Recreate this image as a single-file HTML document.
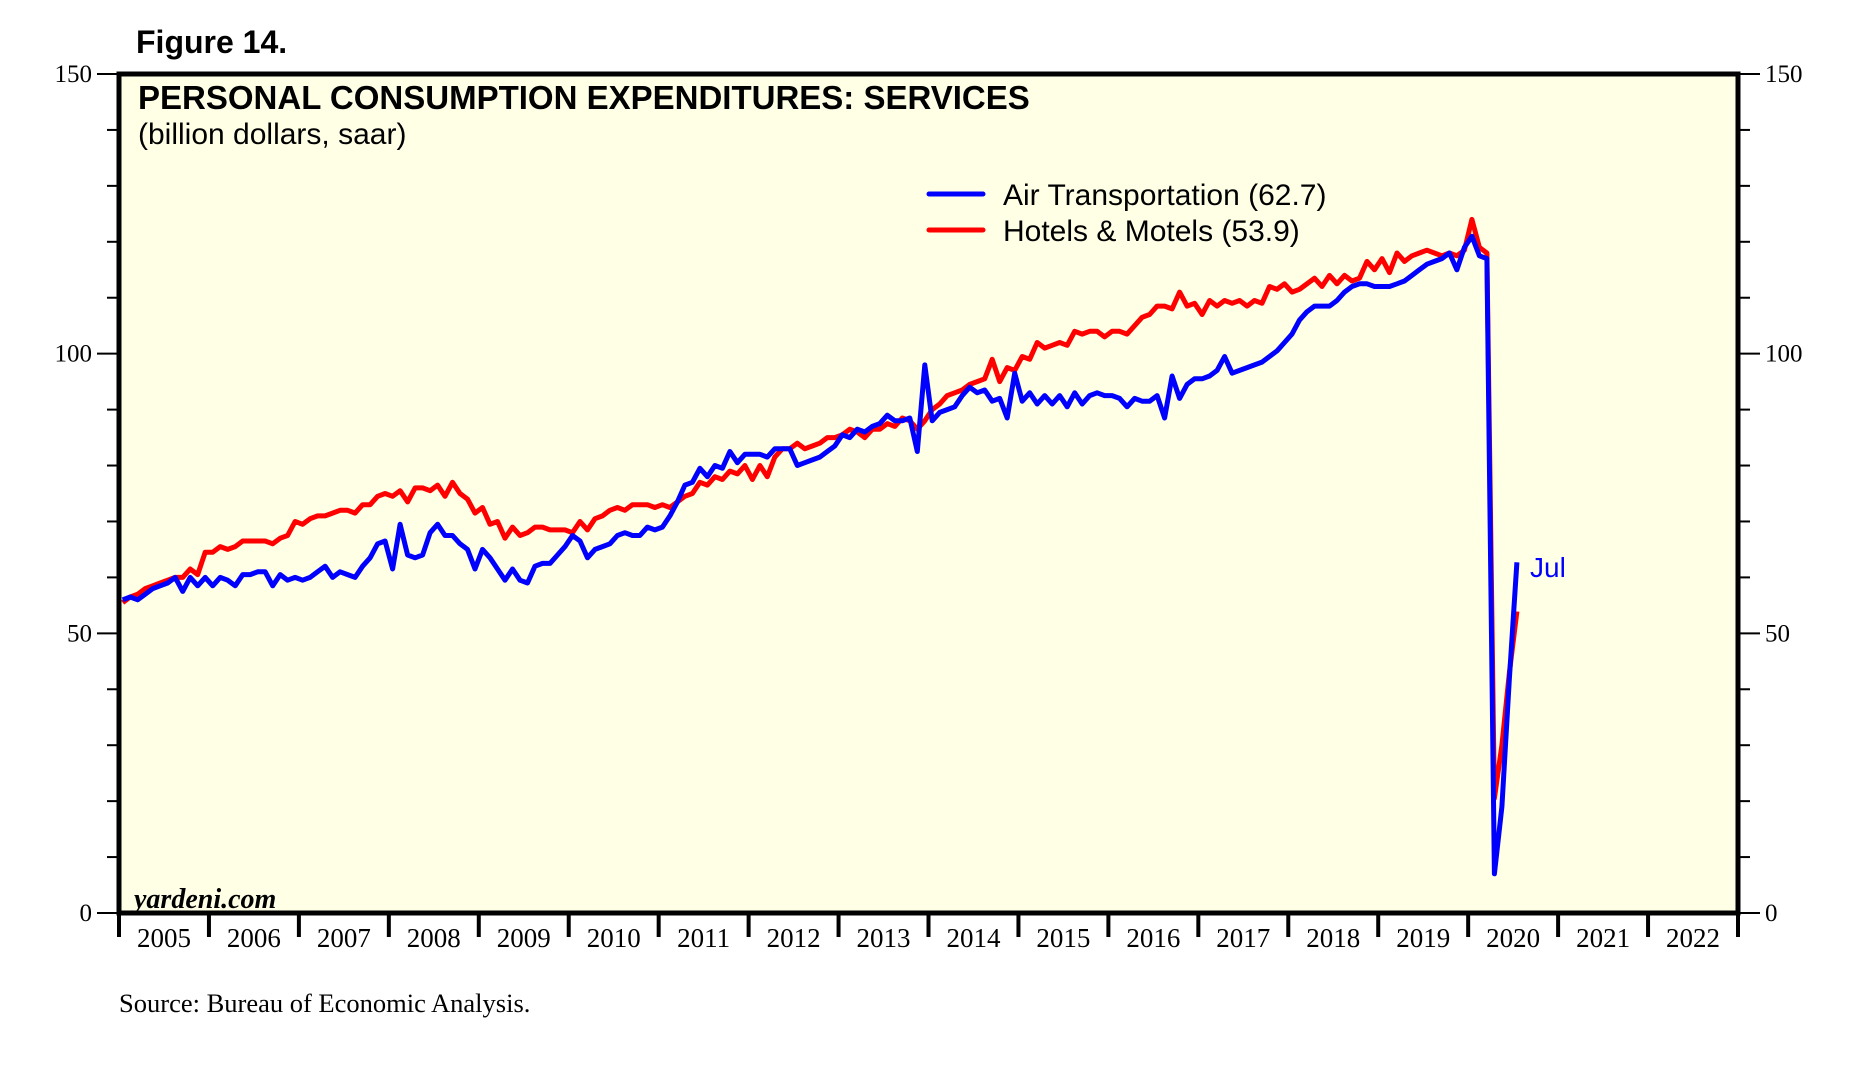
<!DOCTYPE html>
<html><head><meta charset="utf-8"><style>
html,body{margin:0;padding:0;background:#fff;}
svg{display:block;}
</style></head><body>
<svg id="chart" width="1857" height="1080" xmlns="http://www.w3.org/2000/svg">
<text x="136" y="53" font-family="Liberation Sans, sans-serif" font-weight="bold" font-size="32">Figure 14.</text>
<rect x="119" y="74" width="1619" height="839" fill="#ffffe6"/>
<g id="ticks"></g>
<g id="series"></g>
<rect x="119" y="74" width="1619" height="839" fill="none" stroke="#000" stroke-width="5"/>
<text x="138" y="109" font-family="Liberation Sans, sans-serif" font-weight="bold" font-size="33">PERSONAL CONSUMPTION EXPENDITURES: SERVICES</text>
<text x="138" y="144" font-family="Liberation Sans, sans-serif" font-size="30">(billion dollars, saar)</text>
<line x1="929" y1="194" x2="983" y2="194" stroke="#0000ff" stroke-width="5" stroke-linecap="round"/>
<text x="1003" y="205" font-family="Liberation Sans, sans-serif" font-size="30">Air Transportation (62.7)</text>
<line x1="929" y1="230" x2="983" y2="230" stroke="#ff0000" stroke-width="5" stroke-linecap="round"/>
<text x="1003" y="241" font-family="Liberation Sans, sans-serif" font-size="30">Hotels &amp; Motels (53.9)</text>
<text x="1530" y="577" font-family="Liberation Sans, sans-serif" font-size="28" fill="#0000ff">Jul</text>
<text x="134" y="908" font-family="Liberation Serif, serif" font-style="italic" font-weight="bold" font-size="28">yardeni.com</text>
<text x="119" y="1012" font-family="Liberation Serif, serif" font-size="26.5">Source: Bureau of Economic Analysis.</text>
</svg>
<script>
const years = [2005,2006,2007,2008,2009,2010,2011,2012,2013,2014,2015,2016,2017,2018,2019,2020,2021,2022];
const yTicks = [0,50,100,150];
const airTransport = [
56,56.5,56,57,58,58.5,59,60,57.5,60,58.5,60,
58.5,60,59.5,58.5,60.5,60.5,61,61,58.5,60.5,59.5,60,
59.5,60,61,62,60,61,60.5,60,62,63.5,66,66.5,
61.5,69.5,64,63.5,64,68,69.5,67.5,67.5,66,65,61.5,
65,63.5,61.5,59.5,61.5,59.5,59,62,62.5,62.5,64,65.5,
67.5,66.5,63.5,65,65.5,66,67.5,68,67.5,67.5,69,68.5,
69,71,73.5,76.5,77,79.5,78,80,79.5,82.5,80.5,82,
82,82,81.5,83,83,83,80,80.5,81,81.5,82.5,83.5,
85.5,85,86.5,86,87,87.5,89,88,88,88.5,82.5,98,
88,89.5,90,90.5,92.5,94,93,93.5,91.5,92,88.5,96.5,
91.5,93,91,92.5,91,92.5,90.5,93,91,92.5,93,92.5,
92.5,92,90.5,92,91.5,91.5,92.5,88.5,96,92,94.5,95.5,
95.5,96,97,99.5,96.5,97,97.5,98,98.5,99.5,100.5,102,
103.5,106,107.5,108.5,108.5,108.5,109.5,111,112,112.5,112.5,112,
112,112,112.5,113,114,115,116,116.5,117,118,115,119,
121,117.5,117,7,19,42,62.7];
const hotelsMotels = [
55.5,56.5,57,58,58.5,59,59.5,60,60,61.5,60.5,64.5,
64.5,65.5,65,65.5,66.5,66.5,66.5,66.5,66,67,67.5,70,
69.5,70.5,71,71,71.5,72,72,71.5,73,73,74.5,75,
74.5,75.5,73.5,76,76,75.5,76.5,74.5,77,75,74,71.5,
72.5,69.5,70,67,69,67.5,68,69,69,68.5,68.5,68.5,
68,70,68.5,70.5,71,72,72.5,72,73,73,73,72.5,
73,72.5,73.5,74.5,75,77,76.5,78,77.5,79,78.5,80,
77.5,80,78,81.5,83,83,84,83,83.5,84,85,85,
85.5,86.5,86,85,86.5,86.5,87.5,87,88.5,88,86.5,88,
90,91,92.5,93,93.5,94.5,95,95.5,99,95,97.5,97,
99.5,99,102,101,101.5,102,101.5,104,103.5,104,104,103,
104,104,103.5,105,106.5,107,108.5,108.5,108,111,108.5,109,
107,109.5,108.5,109.5,109,109.5,108.5,109.5,109,112,111.5,112.5,
111,111.5,112.5,113.5,112,114,112.5,114,113,113.5,116.5,115,
117,114.5,118,116.5,117.5,118,118.5,118,117.5,118,117.5,118.5,
124,119,118,20.5,30,43,53.9];

const X0=119, X1=1738, Y0=913, Y1=74;
const yearW=(X1-X0)/years.length;
function xMonth(i){return X0+(i+0.5)*yearW/12;}
function yVal(v){return Y0-(v/150)*(Y0-Y1);}
const NS="http://www.w3.org/2000/svg";
const tg=document.getElementById('ticks');
function mk(tag,attrs,parent){const e=document.createElementNS(NS,tag);for(const k in attrs)e.setAttribute(k,attrs[k]);parent.appendChild(e);return e;}
for(let v=0;v<=150;v+=10){
  const major=v%50===0;
  const l=mk('line',{x1:major?X0-22:X0-12,x2:X0,y1:yVal(v),y2:yVal(v),stroke:'#000','stroke-width':2},tg);
  
  
  const r=mk('line',{x1:X1,x2:major?X1+22:X1+12,y1:yVal(v),y2:yVal(v),stroke:'#000','stroke-width':2},tg);
  
  
}
yTicks.forEach(v=>{
  const t=mk('text',{x:X0-27,y:yVal(v)+8,'text-anchor':'end','font-family':'Liberation Serif, serif','font-size':25},tg);
  t.textContent=v;
  
  
  const t2=mk('text',{x:X1+27,y:yVal(v)+8,'font-family':'Liberation Serif, serif','font-size':25},tg);
  t2.textContent=v;
  
  
});
for(let i=0;i<=years.length;i++){
  const x=X0+i*yearW;
  const l=mk('line',{x1:x,x2:x,y1:Y0,y2:Y0+24,stroke:'#000','stroke-width':4},tg);
  
  
}
years.forEach((yr,i)=>{
  const t=mk('text',{x:X0+(i+0.5)*yearW,y:Y0+34,'text-anchor':'middle','font-family':'Liberation Serif, serif','font-size':27},tg);
  t.textContent=yr;
  
  
});
const sg=document.getElementById('series');
function line(data,color,name){
  const d=data.map((v,i)=>(i?'L':'M')+xMonth(i).toFixed(1)+','+yVal(v).toFixed(1)).join('');
  const p=mk('path',{d:d,fill:'none',stroke:color,'stroke-width':5,'stroke-linejoin':'round'},sg);
  
  
}
line(hotelsMotels,'#ff0000','hotels-motels-line');
line(airTransport,'#0000ff','air-transportation-line');
</script>
</body></html>
